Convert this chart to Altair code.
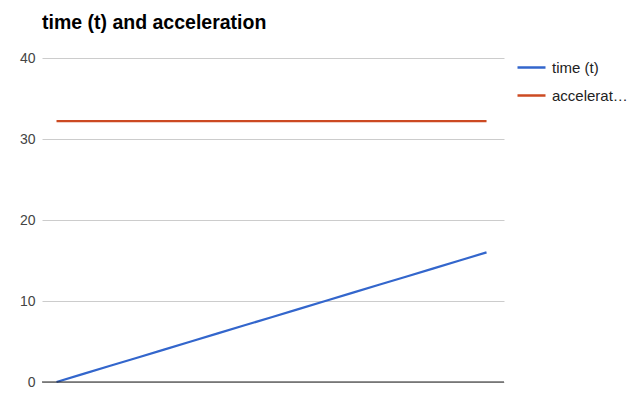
import altair as alt
import pandas as pd

step = list(range(0, 17))
time_t = [0, 1, 2, 3, 4, 5, 6, 7, 8, 9, 10, 11, 12, 13, 14, 15, 16]
acceleration = [32.2] * 17
series_names = ["time (t)", "acceleration"]
colors = ["#3366cc", "#cc4a22"]
y_ticks = [0, 10, 20, 30, 40]

rows = []
for i, s in enumerate(step):
    rows.append({"step": s, "value": time_t[i], "series": series_names[0]})
for i, s in enumerate(step):
    rows.append({"step": s, "value": acceleration[i], "series": series_names[1]})
df = pd.DataFrame(rows)

FONT = "Arial, Liberation Sans, sans-serif"

lines = alt.Chart(df).mark_line(strokeWidth=2.2).encode(
    x=alt.X("step:Q", axis=None, scale=alt.Scale(domain=[-0.54, 16.65], nice=False, zero=False)),
    y=alt.Y("value:Q", scale=alt.Scale(domain=[0, 40], nice=False),
            axis=alt.Axis(values=y_ticks, title=None, ticks=False, domain=False,
                          labelPadding=7, labelFontSize=14, labelColor="#444",
                          labelFont=FONT, gridColor="#cccccc", gridWidth=1)),
    color=alt.Color("series:N", scale=alt.Scale(domain=series_names, range=colors),
                    legend=alt.Legend(title=None, orient="none", legendX=474, legendY=-6,
                                      symbolType="stroke", symbolStrokeWidth=2.5,
                                      symbolSize=784, labelFontSize=15, labelFont=FONT,
                                      labelColor="#222", labelLimit=77, rowPadding=4,
                                      labelOffset=5)),
)

zero = alt.Chart(pd.DataFrame({"y": [0]})).mark_rule(color="#222222", strokeWidth=1.2).encode(y="y:Q")

chart = alt.layer(lines, zero).properties(
    width=462, height=324,
    padding={"left": 42, "top": 58, "right": 127, "bottom": 11},
    autosize=alt.AutoSizeParams(type="none"),
    title=alt.TitleParams("time (t) and acceleration", anchor="start", frame="group",
                          fontSize=19.5, font=FONT, fontWeight="bold", color="#000",
                          offset=18),
).configure_view(stroke=None)

chart.save("out.html", embed_options={"renderer": "svg", "actions": False})
